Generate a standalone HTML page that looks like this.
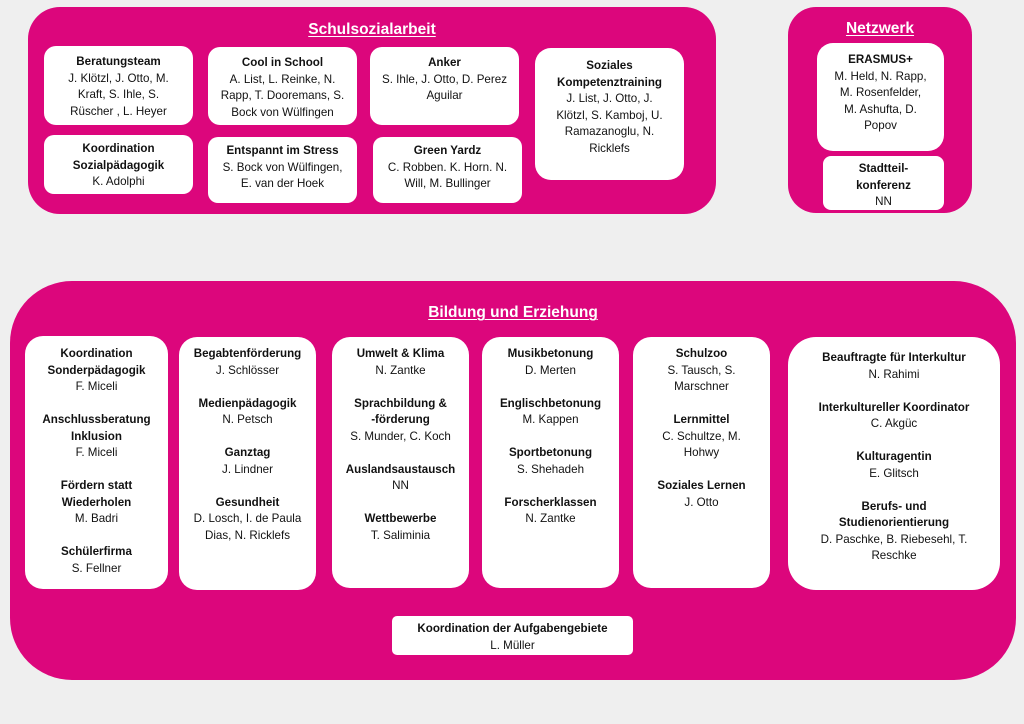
<!DOCTYPE html>
<html><head><meta charset="utf-8"><style>
body{margin:0;width:1024px;height:724px;background:#efefef;position:relative;overflow:hidden;font-family:"Liberation Sans",sans-serif;}
.m{position:absolute;background:#dc067c;}
.b{position:absolute;background:#fff;text-align:center;font-size:11.6px;line-height:16.5px;color:#111;white-space:nowrap;box-sizing:border-box;}
.b b{font-weight:bold;}
.t{position:absolute;color:#fff;font-weight:bold;font-size:15.5px;text-decoration:underline;text-decoration-thickness:1px;text-underline-offset:2px;transform:translateX(-50%);white-space:nowrap;}
</style></head><body>
<div class="m" style="left:28px;top:7px;width:688px;height:207px;border-radius:32px"></div>
<div class="m" style="left:788px;top:7px;width:184px;height:206px;border-radius:28px"></div>
<div class="m" style="left:10px;top:281px;width:1006px;height:399px;border-radius:62px"></div>

<div class="t" style="left:372px;top:21px">Schulsozialarbeit</div>
<div class="t" style="left:880px;top:20px">Netzwerk</div>
<div class="t" style="left:513px;top:304px">Bildung und Erziehung</div>

<div class="b" style="left:44px;top:46px;width:149px;height:79px;border-radius:12px;padding-top:8px"><b>Beratungsteam</b><br>J. Klötzl, J. Otto, M.<br>Kraft, S. Ihle, S.<br>Rüscher , L. Heyer</div>
<div class="b" style="left:44px;top:135px;width:149px;height:59px;border-radius:10px;padding-top:6px"><b>Koordination<br>Sozialpädagogik</b><br>K. Adolphi</div>
<div class="b" style="left:208px;top:47px;width:149px;height:78px;border-radius:12px;padding-top:8px"><b>Cool in School</b><br>A. List, L. Reinke, N.<br>Rapp, T. Dooremans, S.<br>Bock von Wülfingen</div>
<div class="b" style="left:208px;top:137px;width:149px;height:66px;border-radius:10px;padding-top:6px"><b>Entspannt im Stress</b><br>S. Bock von Wülfingen,<br>E. van der Hoek</div>
<div class="b" style="left:370px;top:47px;width:149px;height:78px;border-radius:12px;padding-top:8px"><b>Anker</b><br>S. Ihle, J. Otto, D. Perez<br>Aguilar</div>
<div class="b" style="left:373px;top:137px;width:149px;height:66px;border-radius:10px;padding-top:6px"><b>Green Yardz</b><br>C. Robben. K. Horn. N.<br>Will, M. Bullinger</div>
<div class="b" style="left:535px;top:48px;width:149px;height:132px;border-radius:16px;padding-top:10px"><b>Soziales<br>Kompetenztraining</b><br>J. List, J. Otto, J.<br>Klötzl, S. Kamboj, U.<br>Ramazanoglu, N.<br>Ricklefs</div>
<div class="b" style="left:817px;top:43px;width:127px;height:108px;border-radius:16px;padding-top:9px"><b>ERASMUS+</b><br>M. Held, N. Rapp,<br>M. Rosenfelder,<br>M. Ashufta, D.<br>Popov</div>
<div class="b" style="left:823px;top:156px;width:121px;height:54px;border-radius:8px;padding-top:5px"><b>Stadtteil-<br>konferenz</b><br>NN</div>

<div class="b" style="left:25px;top:336px;width:143px;height:253px;border-radius:18px;padding-top:10px"><b>Koordination<br>Sonderpädagogik</b><br>F. Miceli<br><br><b>Anschlussberatung<br>Inklusion</b><br>F. Miceli<br><br><b>Fördern statt<br>Wiederholen</b><br>M. Badri<br><br><b>Schülerfirma</b><br>S. Fellner</div>
<div class="b" style="left:179px;top:337px;width:137px;height:253px;border-radius:18px;padding-top:9px"><b>Begabtenförderung</b><br>J. Schlösser<br><br><b>Medienpädagogik</b><br>N. Petsch<br><br><b>Ganztag</b><br>J. Lindner<br><br><b>Gesundheit</b><br>D. Losch, I. de Paula<br>Dias, N. Ricklefs</div>
<div class="b" style="left:332px;top:337px;width:137px;height:251px;border-radius:18px;padding-top:9px"><b>Umwelt &amp; Klima</b><br>N. Zantke<br><br><b>Sprachbildung &amp;<br>-förderung</b><br>S. Munder, C. Koch<br><br><b>Auslandsaustausch</b><br>NN<br><br><b>Wettbewerbe</b><br>T. Saliminia</div>
<div class="b" style="left:482px;top:337px;width:137px;height:251px;border-radius:18px;padding-top:9px"><b>Musikbetonung</b><br>D. Merten<br><br><b>Englischbetonung</b><br>M. Kappen<br><br><b>Sportbetonung</b><br>S. Shehadeh<br><br><b>Forscherklassen</b><br>N. Zantke</div>
<div class="b" style="left:633px;top:337px;width:137px;height:251px;border-radius:18px;padding-top:9px"><b>Schulzoo</b><br>S. Tausch, S.<br>Marschner<br><br><b>Lernmittel</b><br>C. Schultze, M.<br>Hohwy<br><br><b>Soziales Lernen</b><br>J. Otto</div>
<div class="b" style="left:788px;top:337px;width:212px;height:253px;border-radius:28px;padding-top:13px"><b>Beauftragte für Interkultur</b><br>N. Rahimi<br><br><b>Interkultureller Koordinator</b><br>C. Akgüc<br><br><b>Kulturagentin</b><br>E. Glitsch<br><br><b>Berufs- und<br>Studienorientierung</b><br>D. Paschke, B. Riebesehl, T.<br>Reschke</div>
<div class="b" style="left:392px;top:616px;width:241px;height:39px;border-radius:5px;padding-top:5px"><b>Koordination der Aufgabengebiete</b><br>L. Müller</div>
</body></html>
